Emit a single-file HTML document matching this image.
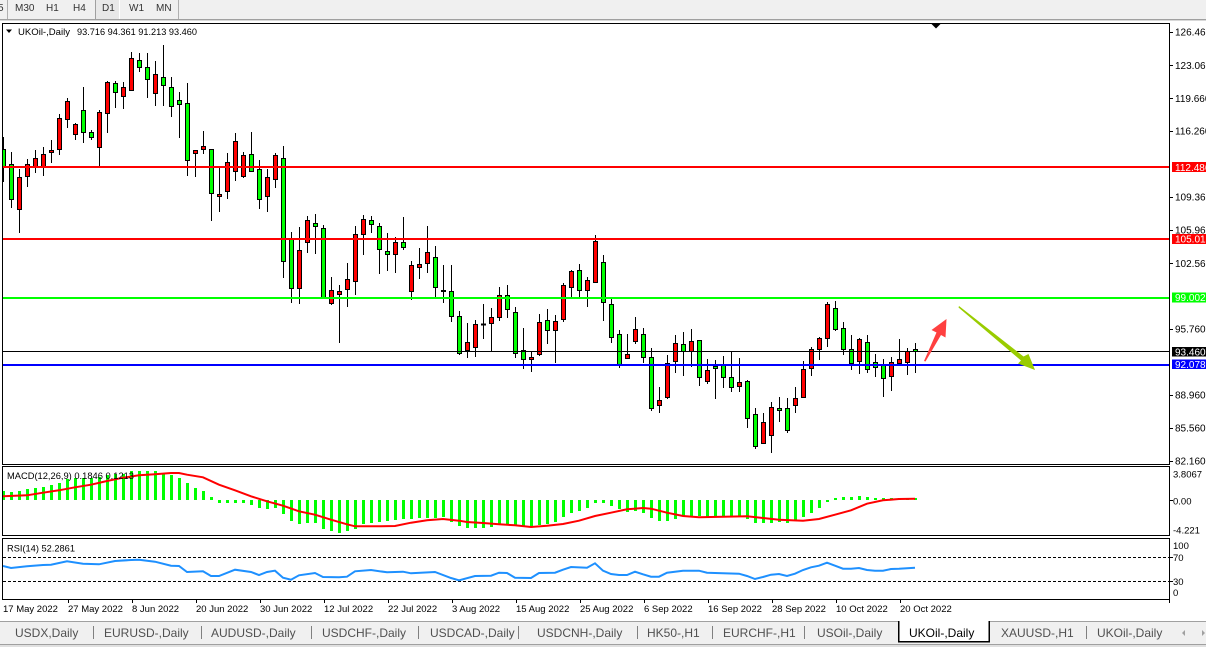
<!DOCTYPE html>
<html><head><meta charset="utf-8"><style>
html,body{margin:0;padding:0;background:#fff;width:1206px;height:647px;overflow:hidden}
svg{display:block}
text{font-family:"Liberation Sans",Arial,sans-serif}
</style></head><body>
<svg width="1206" height="647" viewBox="0 0 1206 647" xmlns="http://www.w3.org/2000/svg">
<defs>
<clipPath id="cm"><rect x="3" y="24" width="1166" height="440"/></clipPath>
<clipPath id="cd"><rect x="3" y="467" width="1166" height="68"/></clipPath>
<clipPath id="cr"><rect x="3" y="539" width="1166" height="60"/></clipPath>
</defs>
<rect width="1206" height="647" fill="#fff"/>
<!-- toolbar -->
<rect x="0" y="0" width="1206" height="19" fill="#f0f0f0"/>
<rect x="0" y="19" width="1206" height="1" fill="#a0a0a0"/>
<rect x="0" y="20" width="1206" height="1" fill="#d8d8d8"/>
<rect x="95" y="0" width="25" height="19" fill="#e8e8e8"/>
<line x1="95.5" y1="0" x2="95.5" y2="19" stroke="#a0a0a0"/>
<line x1="119.5" y1="0" x2="119.5" y2="19" stroke="#ffffff"/>
<line x1="7.5" y1="0" x2="7.5" y2="19" stroke="#b0b0b0"/>
<line x1="178.5" y1="0" x2="178.5" y2="19" stroke="#b0b0b0"/>
<g font-size="10" fill="#333">
<text x="-2" y="11">5</text><text x="15" y="11">M30</text><text x="46" y="11">H1</text><text x="73" y="11">H4</text><text x="102" y="11">D1</text><text x="129" y="11">W1</text><text x="156" y="11">MN</text>
</g>
<!-- panels -->
<rect x="2.5" y="23.5" width="1167" height="441" fill="none" stroke="#000"/>
<rect x="2.5" y="466.5" width="1167" height="69" fill="none" stroke="#000"/>
<rect x="2.5" y="538.5" width="1167" height="61" fill="none" stroke="#000"/>
<polygon points="931.5,24 940.5,24 936,28.5" fill="#000"/>
<!-- candles -->
<g clip-path="url(#cm)">
<path fill="none" stroke="#000" stroke-width="1" d="M3.5 137V182M11.5 152V208M19.5 169V233M27.5 159V187M35.5 150V173M43.5 147V176M51.5 140V163M59.5 114V155M67.5 98V128M75.5 123V140M83.5 87V143M91.5 130V140M99.5 110V168M107.5 81V133M115.5 81V108M123.5 82V109M131.5 52V90M139.5 53V72M147.5 53V98M155.5 61V106M163.5 45V106M171.5 77V117M179.5 92V138M187.5 83V176M195.5 150V177M203.5 131V154M211.5 149V221M219.5 168V212M227.5 153V199M235.5 133V181M243.5 152V178M251.5 132V171M259.5 160V209M267.5 169V212M275.5 153V188M283.5 146V278M291.5 232V303M299.5 227V304M307.5 216V253M315.5 214V254M323.5 225V299M331.5 277V305M339.5 285V343M347.5 263V307M355.5 226V295M363.5 215V255M371.5 216V233M379.5 223V274M387.5 233V271M395.5 237V273M403.5 217V250M411.5 261V300M419.5 248V279M427.5 226V273M435.5 246V297M443.5 265V303M451.5 265V322M459.5 311V355M467.5 323V358M475.5 320V357M483.5 304V339M491.5 308V351M499.5 287V321M507.5 285V318M515.5 307V358M523.5 328V369M531.5 351V372M539.5 314V356M547.5 309V344M555.5 315V363M563.5 283V322M571.5 270V297M579.5 264V297M587.5 277V307M595.5 235V283M603.5 255V321M611.5 299V343M619.5 330V368M627.5 334V359M635.5 317V344M643.5 328V363M651.5 348V411M659.5 387V413M667.5 355V399M675.5 335V373M683.5 332V376M691.5 329V367M699.5 340V386M707.5 359V384M715.5 360V399M723.5 356V388M731.5 351V392M739.5 358V392M747.5 380V428M755.5 408V449M763.5 413V443M771.5 402V453M779.5 397V422M787.5 398V433M795.5 387V413M803.5 361V397M811.5 347V376M819.5 337V360M827.5 302V347M835.5 301V331M843.5 322V355M851.5 335V370M859.5 338V374M867.5 335V373M875.5 354V377M883.5 359V397M891.5 357V391M899.5 339V366M907.5 348V375M915.5 343V373"/>
<g fill="#ff0000" stroke="#000" stroke-width="1">
<rect x="17.5" y="177.5" width="4" height="32"/><rect x="25.5" y="164.5" width="4" height="12"/><rect x="33.5" y="158.5" width="4" height="8"/><rect x="41.5" y="154.5" width="4" height="12"/><rect x="49.5" y="150.5" width="4" height="2"/><rect x="57.5" y="118.5" width="4" height="31"/><rect x="65.5" y="101.5" width="4" height="18"/><rect x="73.5" y="124.5" width="4" height="10"/><rect x="97.5" y="112.5" width="4" height="35"/><rect x="105.5" y="82.5" width="4" height="31"/><rect x="121.5" y="87.5" width="4" height="9"/><rect x="129.5" y="58.5" width="4" height="32"/><rect x="153.5" y="74.5" width="4" height="19"/><rect x="193.5" y="150.5" width="4" height="3"/><rect x="201.5" y="146.5" width="4" height="3"/><rect x="217.5" y="194.5" width="4" height="2"/><rect x="225.5" y="162.5" width="4" height="29"/><rect x="233.5" y="141.5" width="4" height="30"/><rect x="241.5" y="155.5" width="4" height="21"/><rect x="265.5" y="177.5" width="4" height="19"/><rect x="273.5" y="155.5" width="4" height="24"/><rect x="297.5" y="250.5" width="4" height="38"/><rect x="305.5" y="220.5" width="4" height="22"/><rect x="329.5" y="290.5" width="4" height="13"/><rect x="337.5" y="291.5" width="4" height="3"/><rect x="345.5" y="279.5" width="4" height="10"/><rect x="353.5" y="234.5" width="4" height="47"/><rect x="361.5" y="219.5" width="4" height="15"/><rect x="393.5" y="242.5" width="4" height="12"/><rect x="409.5" y="265.5" width="4" height="26"/><rect x="417.5" y="264.5" width="4" height="3"/><rect x="425.5" y="252.5" width="4" height="11"/><rect x="441.5" y="290.5" width="4" height="1"/><rect x="465.5" y="342.5" width="4" height="8"/><rect x="473.5" y="324.5" width="4" height="23"/><rect x="481.5" y="324" width="4" height="1"/><rect x="489.5" y="317.5" width="4" height="6"/><rect x="497.5" y="295.5" width="4" height="22"/><rect x="529.5" y="357.5" width="4" height="2"/><rect x="537.5" y="322.5" width="4" height="32"/><rect x="553.5" y="321.5" width="4" height="9"/><rect x="561.5" y="285.5" width="4" height="34"/><rect x="569.5" y="271.5" width="4" height="16"/><rect x="585.5" y="280.5" width="4" height="10"/><rect x="593.5" y="241.5" width="4" height="41"/><rect x="625.5" y="354.5" width="4" height="4"/><rect x="633.5" y="329.5" width="4" height="12"/><rect x="657.5" y="400.5" width="4" height="5"/><rect x="665.5" y="363.5" width="4" height="34"/><rect x="673.5" y="343.5" width="4" height="18"/><rect x="689.5" y="341.5" width="4" height="10"/><rect x="705.5" y="370.5" width="4" height="11"/><rect x="737.5" y="382.5" width="4" height="4"/><rect x="761.5" y="422.5" width="4" height="21"/><rect x="769.5" y="407.5" width="4" height="28"/><rect x="793.5" y="398.5" width="4" height="7"/><rect x="801.5" y="369.5" width="4" height="28"/><rect x="809.5" y="349.5" width="4" height="19"/><rect x="817.5" y="338.5" width="4" height="11"/><rect x="825.5" y="304.5" width="4" height="34"/><rect x="857.5" y="339.5" width="4" height="22"/><rect x="889.5" y="362.5" width="4" height="14"/><rect x="897.5" y="359.5" width="4" height="4"/><rect x="905.5" y="351.5" width="4" height="11"/>
</g>
<g fill="#00ff00" stroke="#000" stroke-width="1">
<rect x="1.5" y="149.5" width="4" height="18"/><rect x="9.5" y="164.5" width="4" height="35"/><rect x="81.5" y="110.5" width="4" height="22"/><rect x="89.5" y="132.5" width="4" height="5"/><rect x="113.5" y="83.5" width="4" height="9"/><rect x="137.5" y="60.5" width="4" height="7"/><rect x="145.5" y="67.5" width="4" height="12"/><rect x="161.5" y="77.5" width="4" height="8"/><rect x="169.5" y="87.5" width="4" height="19"/><rect x="177.5" y="100.5" width="4" height="4"/><rect x="185.5" y="103.5" width="4" height="57"/><rect x="209.5" y="149.5" width="4" height="44"/><rect x="249.5" y="154.5" width="4" height="17"/><rect x="257.5" y="169.5" width="4" height="30"/><rect x="281.5" y="158.5" width="4" height="103"/><rect x="289.5" y="239.5" width="4" height="49"/><rect x="313.5" y="223.5" width="4" height="3"/><rect x="321.5" y="228.5" width="4" height="70"/><rect x="369.5" y="220.5" width="4" height="4"/><rect x="377.5" y="226.5" width="4" height="23"/><rect x="385.5" y="251.5" width="4" height="3"/><rect x="401.5" y="242.5" width="4" height="5"/><rect x="433.5" y="257.5" width="4" height="30"/><rect x="449.5" y="291.5" width="4" height="25"/><rect x="457.5" y="316.5" width="4" height="37"/><rect x="505.5" y="295.5" width="4" height="14"/><rect x="513.5" y="312.5" width="4" height="41"/><rect x="521.5" y="350.5" width="4" height="9"/><rect x="545.5" y="320.5" width="4" height="10"/><rect x="577.5" y="270.5" width="4" height="20"/><rect x="601.5" y="262.5" width="4" height="40"/><rect x="609.5" y="304.5" width="4" height="33"/><rect x="617.5" y="334.5" width="4" height="30"/><rect x="641.5" y="334.5" width="4" height="23"/><rect x="649.5" y="357.5" width="4" height="51"/><rect x="681.5" y="344.5" width="4" height="7"/><rect x="697.5" y="340.5" width="4" height="37"/><rect x="713.5" y="366.5" width="4" height="2"/><rect x="721.5" y="365.5" width="4" height="12"/><rect x="729.5" y="377.5" width="4" height="10"/><rect x="745.5" y="381.5" width="4" height="37"/><rect x="753.5" y="414.5" width="4" height="32"/><rect x="777.5" y="408.5" width="4" height="2"/><rect x="785.5" y="408.5" width="4" height="22"/><rect x="833.5" y="308.5" width="4" height="21"/><rect x="841.5" y="328.5" width="4" height="21"/><rect x="849.5" y="349.5" width="4" height="14"/><rect x="865.5" y="342.5" width="4" height="27"/><rect x="873.5" y="362.5" width="4" height="5"/><rect x="881.5" y="365.5" width="4" height="13"/><rect x="913.5" y="349.5" width="4" height="2"/>
</g>
<!-- horizontal levels -->
<rect x="3" y="166" width="1166" height="2" fill="#ff0000"/>
<rect x="3" y="238" width="1166" height="2" fill="#ff0000"/>
<rect x="3" y="297" width="1166" height="2" fill="#00ff00"/>
<rect x="3" y="351" width="1166" height="1" fill="#000"/>
<rect x="3" y="364" width="1166" height="2" fill="#0000ff"/>
<!-- arrows -->
<polygon points="924,361 936.5,332.5 931.5,330 946.5,319 945.5,337.5 941,335 925.5,361.5" fill="#ff4040"/>
<polygon points="959,306 1023.5,356.5 1028.5,354 1035,370 1018,363.5 1021,360.5 958.5,307.5" fill="#99cc00"/>
</g>
<!-- title -->
<polygon points="6,29.5 12,29.5 9,33" fill="#000"/>
<text x="18" y="35" font-size="9.5" fill="#000" textLength="52" lengthAdjust="spacingAndGlyphs">UKOil-,Daily</text>
<text x="77" y="35" font-size="9.5" fill="#000" textLength="120" lengthAdjust="spacingAndGlyphs">93.716 94.361 91.213 93.460</text>
<!-- price axis -->
<path stroke="#000" d="M1169 32.5h4M1169 65.5h4M1169 98.5h4M1169 131.5h4M1169 197.5h4M1169 230.5h4M1169 263.5h4M1169 329.5h4M1169 395.5h4M1169 428.5h4M1169 461.5h4"/>
<g font-size="10" fill="#000">
<text x="1175" y="35.7">126.460</text><text x="1175" y="69">123.060</text><text x="1175" y="102">119.660</text><text x="1175" y="134.7">116.260</text><text x="1175" y="200.7">109.360</text><text x="1175" y="233.4">105.960</text><text x="1175" y="267">102.560</text><text x="1175" y="332.4">95.760</text><text x="1175" y="398.4">88.960</text><text x="1175" y="431.4">85.560</text><text x="1175" y="464.4">82.160</text>
</g>
<rect x="1172" y="162" width="34" height="10" fill="#ff0000"/>
<rect x="1172" y="234" width="34" height="10" fill="#ff0000"/>
<rect x="1172" y="292.5" width="34" height="10" fill="#00ff00"/>
<rect x="1172" y="347" width="34" height="9.5" fill="#000"/>
<rect x="1172" y="359.5" width="34" height="9.5" fill="#0000ff"/>
<g font-size="10" fill="#fff">
<text x="1175" y="170.8">112.486</text><text x="1175" y="242.6">105.015</text><text x="1175" y="301.2">99.002</text><text x="1175" y="355.3">93.460</text><text x="1175" y="367.8">92.078</text>
</g>
<!-- MACD -->
<g clip-path="url(#cd)">
<path fill="#00ff00" d="M2 491h3V500h-3zM10 492h3V500h-3zM18 491h3V500h-3zM26 489h3V500h-3zM34 488h3V500h-3zM42 487h3V500h-3zM50 485h3V500h-3zM58 483h3V500h-3zM66 479h3V500h-3zM74 478h3V500h-3zM82 478h3V500h-3zM90 478h3V500h-3zM98 477h3V500h-3zM106 475h3V500h-3zM114 474h3V500h-3zM122 474h3V500h-3zM130 471h3V500h-3zM138 471h3V500h-3zM146 471h3V500h-3zM154 471h3V500h-3zM162 473h3V500h-3zM170 475h3V500h-3zM178 478h3V500h-3zM186 483h3V500h-3zM194 488h3V500h-3zM202 491h3V500h-3zM210 497h3V500h-3zM218 503h3V500h-3zM226 503h3V500h-3zM234 503h3V500h-3zM242 503h3V500h-3zM250 505h3V500h-3zM258 508h3V500h-3zM266 509h3V500h-3zM274 508h3V500h-3zM282 514h3V500h-3zM290 521h3V500h-3zM298 524h3V500h-3zM306 523h3V500h-3zM314 523h3V500h-3zM322 529h3V500h-3zM330 531h3V500h-3zM338 533h3V500h-3zM346 531h3V500h-3zM354 529h3V500h-3zM362 524h3V500h-3zM370 523h3V500h-3zM378 522h3V500h-3zM386 521h3V500h-3zM394 520h3V500h-3zM402 519h3V500h-3zM410 519h3V500h-3zM418 518h3V500h-3zM426 518h3V500h-3zM434 518h3V500h-3zM442 517h3V500h-3zM450 522h3V500h-3zM458 526h3V500h-3zM466 528h3V500h-3zM474 528h3V500h-3zM482 528h3V500h-3zM490 527h3V500h-3zM498 524h3V500h-3zM506 525h3V500h-3zM514 525h3V500h-3zM522 527h3V500h-3zM530 527h3V500h-3zM538 525h3V500h-3zM546 524h3V500h-3zM554 522h3V500h-3zM562 517h3V500h-3zM570 513h3V500h-3zM578 511h3V500h-3zM586 508h3V500h-3zM594 503h3V500h-3zM602 503h3V500h-3zM610 506h3V500h-3zM618 509h3V500h-3zM626 512h3V500h-3zM634 511h3V500h-3zM642 513h3V500h-3zM650 518h3V500h-3zM658 521h3V500h-3zM666 521h3V500h-3zM674 519h3V500h-3zM682 516h3V500h-3zM690 516h3V500h-3zM698 516h3V500h-3zM706 517h3V500h-3zM714 517h3V500h-3zM722 517h3V500h-3zM730 517h3V500h-3zM738 517h3V500h-3zM746 519h3V500h-3zM754 523h3V500h-3zM762 523h3V500h-3zM770 523h3V500h-3zM778 522h3V500h-3zM786 523h3V500h-3zM794 520h3V500h-3zM802 517h3V500h-3zM810 513h3V500h-3zM818 508h3V500h-3zM826 502h3V500h-3zM834 498h3V500h-3zM842 497h3V500h-3zM850 497h3V500h-3zM858 496h3V500h-3zM866 497h3V500h-3zM874 498h3V500h-3zM882 498h3V500h-3zM890 498h3V500h-3zM898 498h3V500h-3zM906 498h3V500h-3zM914 498h3V500h-3z"/>
<polyline fill="none" stroke="#ff0000" stroke-width="2" points="3,496.3 27,495.3 43,492.7 59,490.3 75,487.3 91,484.7 107,481 123,477.7 139,475.3 155,474.3 171,473 179,473 187,474.7 203,477.3 219,484.7 235,490.3 251,496.3 267,501.3 283,505.7 299,511.3 315,514.7 331,519.7 347,524.3 355,526.3 379,526.3 395,526 411,522.7 427,520.3 443,519 459,520.7 467,522 483,523 499,524.3 515,525.3 531,527 547,525.7 563,524 579,520.7 595,516 611,512.7 627,509.3 643,508 651,508.7 667,512.7 683,516 699,517.3 747,516.3 763,518 779,519.7 803,520.7 819,519 835,514.7 851,510.3 867,503.7 883,500.3 899,499 915,498.7"/>
</g>
<text x="7" y="479" font-size="9.5" fill="#000" textLength="127" lengthAdjust="spacingAndGlyphs">MACD(12,26,9) 0.1846 0.1213</text>
<path stroke="#000" d="M1169 500.5h4"/>
<g font-size="9.5" fill="#000">
<text x="1173" y="477.4">3.8067</text><text x="1173" y="504.4">0.00</text><text x="1173" y="533.4">-4.221</text>
</g>
<!-- RSI -->
<line x1="3" y1="557.5" x2="1169" y2="557.5" stroke="#000" stroke-dasharray="3 2"/>
<line x1="3" y1="581.5" x2="1169" y2="581.5" stroke="#000" stroke-dasharray="3 2"/>
<g clip-path="url(#cr)">
<polyline fill="none" stroke="#1e90ff" stroke-width="2" points="3,566 11,568 27,566.3 43,565 51,564.7 67,561.3 83,563.7 99,564.3 115,561 131,560 139,559.7 155,561.7 171,565.7 179,566 187,572 203,571.3 211,576 219,576 235,569.7 251,572 259,575 267,572 275,570.7 283,577.7 291,579.7 299,575.3 315,573 323,577 339,577.3 347,576.7 355,571.3 371,570 387,572.3 403,571.7 411,573.3 435,572 451,578 459,580.3 475,576 491,575.7 499,572.7 507,573 515,577.7 531,578 539,573 555,572.7 563,569.7 571,567 587,567.7 595,563.3 603,570.7 611,574 619,575 627,575 635,571.7 643,574.3 651,576.7 659,576.7 667,572.7 683,570.7 699,570.7 707,572.7 739,573.7 747,576 755,579 763,577 771,574.7 779,574 787,576 795,573.7 803,570 811,567.3 819,565.7 827,562.7 835,565.7 843,568.7 851,568.7 859,568 867,570 875,570.7 883,570.7 891,569 899,568.7 915,567.7"/>
</g>
<text x="7" y="551.4" font-size="9.5" fill="#000" textLength="68" lengthAdjust="spacingAndGlyphs">RSI(14) 52.2861</text>
<path stroke="#000" d="M1169 557.5h4M1169 581.5h4"/>
<g font-size="9.5" fill="#000">
<text x="1173" y="549">100</text><text x="1173" y="561">70</text><text x="1173" y="585">30</text><text x="1173" y="596">0</text>
</g>
<!-- date axis -->
<path stroke="#000" d="M68.5 599v4M132.5 599v4M196.5 599v4M260.5 599v4M324.5 599v4M388.5 599v4M452.5 599v4M516.5 599v4M580.5 599v4M644.5 599v4M708.5 599v4M772.5 599v4M836.5 599v4M900.5 599v4M1169.5 599v4"/>
<g font-size="9.5" fill="#000">
<text x="3" y="612">17 May 2022</text><text x="68" y="612">27 May 2022</text><text x="132" y="612">8 Jun 2022</text><text x="196" y="612">20 Jun 2022</text><text x="260" y="612">30 Jun 2022</text><text x="324" y="612">12 Jul 2022</text><text x="388" y="612">22 Jul 2022</text><text x="452" y="612">3 Aug 2022</text><text x="516" y="612">15 Aug 2022</text><text x="580" y="612">25 Aug 2022</text><text x="644" y="612">6 Sep 2022</text><text x="708" y="612">16 Sep 2022</text><text x="772" y="612">28 Sep 2022</text><text x="836" y="612">10 Oct 2022</text><text x="900" y="612">20 Oct 2022</text>
</g>
<!-- tab bar -->
<rect x="0" y="621" width="1206" height="26" fill="#f0f0f0"/>
<rect x="0" y="621" width="1206" height="1" fill="#a0a0a0"/>
<rect x="0" y="644" width="1206" height="1" fill="#a0a0a0"/>
<rect x="0" y="645" width="1206" height="2" fill="#e0e0e0"/>
<rect x="898" y="621" width="92" height="21" fill="#fff"/>
<path stroke="#000" stroke-width="1.5" fill="none" d="M898.75 621V641.75H989.25V621"/>
<path stroke="#808080" d="M93.5 626v13M201.5 626v13M311.5 626v13M418.5 626v13M518.5 626v13M637.5 626v13M712.5 626v13M804.5 626v13M1086.5 626v13"/>
<g font-size="12" fill="#505050">
<text x="15" y="637">USDX,Daily</text><text x="104" y="637">EURUSD-,Daily</text><text x="211" y="637">AUDUSD-,Daily</text><text x="322" y="637">USDCHF-,Daily</text><text x="430" y="637">USDCAD-,Daily</text><text x="537" y="637">USDCNH-,Daily</text><text x="647" y="637">HK50-,H1</text><text x="723" y="637">EURCHF-,H1</text><text x="817" y="637">USOil-,Daily</text><text x="1001" y="637">XAUUSD-,H1</text><text x="1097" y="637">UKOil-,Daily</text>
</g>
<text x="909" y="637" font-size="12" fill="#000">UKOil-,Daily</text>
<polygon points="1185,630 1185,636 1182,633" fill="#a0a0a0"/>
<polygon points="1202,630 1202,636 1205,633" fill="#a0a0a0"/>
</svg>
</body></html>
